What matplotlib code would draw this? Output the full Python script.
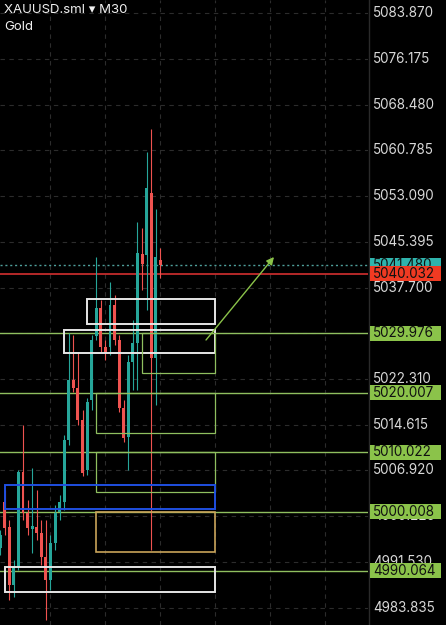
import matplotlib
matplotlib.use('Agg')
import matplotlib.pyplot as plt
from matplotlib.patches import Rectangle
import numpy as np

plt.rcParams['font.family'] = ['Inter', 'DejaVu Sans']

symbol = "XAUUSD.sml"
timeframe = "M30"
instrument = "Gold"

# OHLC for 36 M30 candles (oldest first)
opens = [4993.88, 5001.62, 4997.41, 4987.65, 4990.68, 5006.66, 4999.77, 4997.07, 4997.41,
         4996.40, 4992.36, 4988.50, 4994.72, 4999.93, 5001.62, 5012.05, 5022.14, 5020.79,
         5015.41, 5007.00, 5018.77, 5029.54, 5034.25, 5027.69, 5027.69, 5034.75, 5028.87,
         5017.43, 5012.55, 5025.17, 5028.36, 5043.33, 5043.16, 5053.59, 5025.84, 5042.32]
highs = [4996.91, 5003.63, 4998.59, 4991.86, 5007.00, 5014.57, 5001.95, 5007.34, 5003.63,
         4998.59, 4998.59, 4996.07, 5001.11, 5002.79, 5012.89, 5030.04, 5029.71, 5026.85,
         5017.09, 5019.11, 5029.71, 5042.83, 5035.59, 5028.87, 5038.62, 5036.44, 5029.71,
         5018.77, 5026.34, 5032.23, 5048.71, 5047.71, 5060.49, 5064.36, 5050.90, 5044.34]
lows = [4992.70, 4996.07, 4985.13, 4985.64, 4990.18, 4998.59, 4996.07, 4993.04, 4995.22,
        4991.02, 4981.77, 4986.81, 4993.54, 4998.59, 5000.27, 5011.20, 5020.12, 5014.57,
        5005.99, 5006.16, 5017.09, 5028.87, 5026.85, 5025.50, 5026.34, 5028.03, 5016.75,
        5011.71, 5007.00, 5020.46, 5020.46, 5037.28, 5033.91, 4993.54, 5017.93, 5039.29]
closes = [4996.07, 4997.24, 4987.65, 4990.68, 5006.66, 4999.77, 4997.24, 4997.58, 4996.40,
          4992.36, 4988.50, 4994.72, 4999.77, 5001.62, 5012.05, 5022.14, 5020.79, 5015.41,
          5006.49, 5018.44, 5028.87, 5034.25, 5027.69, 5026.68, 5034.75, 5028.87, 5017.43,
          5012.38, 5025.17, 5028.36, 5043.50, 5041.65, 5054.43, 5025.84, 5042.83, 5041.48]

tick_values = [5083.870, 5076.175, 5068.480, 5060.785, 5053.090, 5045.395, 5037.700,
               5030.005, 5022.310, 5014.615, 5006.920, 4999.225, 4991.530, 4983.835]
tick_labels = ["5083.870", "5076.175", "5068.480", "5060.785", "5053.090", "5045.395",
               "5037.700", "5030.005", "5022.310", "5014.615", "5006.920", "4999.225",
               "4991.530", "4983.835"]

level_prices = [5029.976, 5020.007, 5010.022, 5000.008, 4990.064]
level_labels = ["5029.976", "5020.007", "5010.022", "5000.008", "4990.064"]
ask_price = 5041.480
ask_label = "5041.480"
bid_price = 5040.032
bid_label = "5040.032"

# zones: candle-index start, candle-index end, top price, bottom price
zone_start = [19, 14, 31, 21, 21, 1, 21, 1]
zone_end = [46.9, 46.9, 46.9, 46.9, 46.9, 46.9, 46.9, 46.9]
zone_top = [5035.76, 5030.55, 5029.976, 5020.007, 5010.022, 5004.47, 5000.008, 4990.68]
zone_bottom = [5031.56, 5026.68, 5023.32, 5013.22, 5003.30, 5000.44, 4993.21, 4986.48]
zone_kind = ["white", "white", "green", "green", "green", "blue", "tan", "white"]

arrow_start = (44.96, 5028.87)
arrow_end = (59.8, 5042.83)

# ---------------- styles ----------------
BG = '#000000'
TEAL = '#26a69a'
RED = '#ef5350'
GRID = '#2c2c2c'
LEVEL = '#8fbf5f'
LABEL_GREEN = '#8bc34a'
zone_colors = {'white': '#e6e6e6', 'green': '#8fbf5f', 'blue': '#1f4fe0', 'tan': '#c9a45a'}
zone_lw = {'white': 1.4, 'green': 0.9, 'blue': 1.4, 'tan': 1.2}

W, H = 446, 625
PLOT_W = 368
fig = plt.figure(figsize=(W / 100, H / 100), dpi=100, facecolor=BG)
ax = fig.add_axes([0, 0, PLOT_W / W, 1])
ax.set_facecolor(BG)
ylim = (4980.93, 5086.06)
ax.set_xlim(-0.022, 80.33)
ax.set_ylim(*ylim)
for s in ax.spines.values():
    s.set_visible(False)
ax.set_xticks([])
ax.set_yticks([])

# grid
for v in tick_values:
    ax.axhline(v, color=GRID, lw=0.8, ls=(0, (4, 4)), zorder=0)
for k in range(11, 80, 12):
    ax.axvline(k, color=GRID, lw=0.8, ls=(0, (4, 4)), zorder=0)

# candles
x = np.arange(len(opens))
o = np.array(opens); c = np.array(closes); hi = np.array(highs); lo = np.array(lows)
colors = np.where(c >= o, TEAL, RED)
ax.vlines(x, lo, hi, colors=colors, lw=0.8, zorder=3)
bottoms = np.minimum(o, c)
heights = np.maximum(np.abs(c - o), 0.35)
ax.bar(x, heights, bottom=bottoms, width=0.64, color=colors, edgecolor='none', zorder=4)

# level lines
for p in level_prices:
    ax.axhline(p, color=LEVEL, lw=1.0, zorder=2)
ax.axhline(bid_price, color='#d32f2f', lw=1.2, zorder=2)
ax.axhline(ask_price, color='#4f9f9b', lw=1.0, ls=(0, (1.5, 2)), zorder=2)

# zones
for xs, xe, t, b, kind in zip(zone_start, zone_end, zone_top, zone_bottom, zone_kind):
    ax.add_patch(Rectangle((xs, b), xe - xs, t - b, fill=False,
                           edgecolor=zone_colors[kind], lw=zone_lw[kind], zorder=5))

# arrow
ax.annotate('', xy=arrow_end, xytext=arrow_start,
            arrowprops=dict(arrowstyle='-|>', color=LABEL_GREEN, lw=1.0,
                            mutation_scale=11, shrinkA=0, shrinkB=0), zorder=6)

# title
fig.text(4 / W, 1 - 10 / H, f"{symbol} \u25BE {timeframe}", color='#f0f0f0',
         fontsize=9.5, va='center', ha='left')
fig.text(4 / W, 1 - 27 / H, instrument, color='#f0f0f0', fontsize=9.5, va='center', ha='left')

# right price axis
ax2 = fig.add_axes([PLOT_W / W, 0, (W - PLOT_W) / W, 1])
ax2.set_facecolor(BG)
ax2.set_xlim(0, W - PLOT_W)
ax2.set_ylim(*ylim)
for s in ax2.spines.values():
    s.set_visible(False)
ax2.set_xticks([]); ax2.set_yticks([])
ax2.axvline(0.5, color='#2a2a2a', lw=1.0)

px = (ylim[1] - ylim[0]) / H
for v, t in zip(tick_values, tick_labels):
    ax2.text(5, v, t, color='#d8d8d8', fontsize=9.7, va='center', ha='left', zorder=2)

def tag(price, text, fc, zorder):
    hgt = 15 * px
    ax2.add_patch(Rectangle((2, price - hgt / 2), 71, hgt, facecolor=fc, edgecolor='none',
                            zorder=zorder))
    ax2.text(5, price, text, color='#111111', fontsize=9.7, va='center', ha='left',
             zorder=zorder + 0.5)

tag(ask_price, ask_label, '#2fb4ad', 5)
tag(bid_price, bid_label, '#f03a22', 6)
for p, t in zip(level_prices, level_labels):
    tag(p, t, LABEL_GREEN, 7)

fig.savefig('out.png', dpi=100, facecolor=BG)
